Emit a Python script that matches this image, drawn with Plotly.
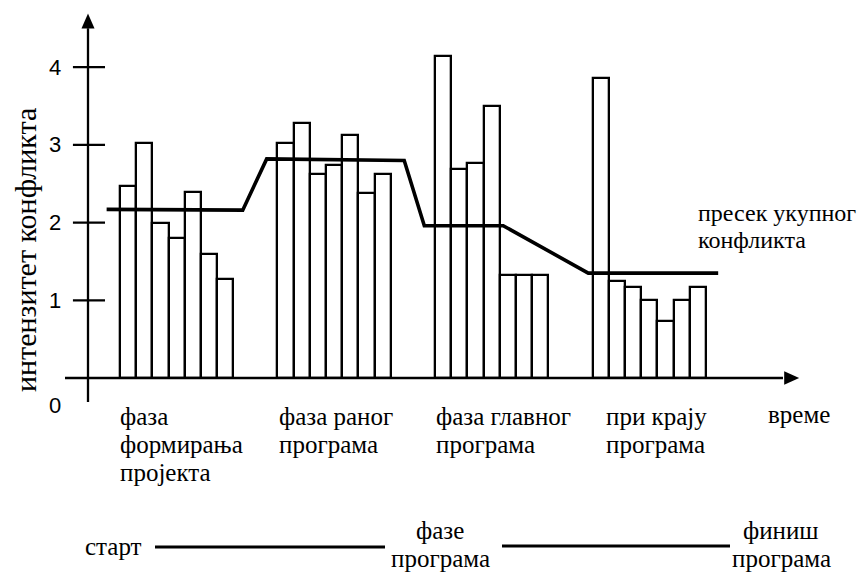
import plotly.graph_objects as go

# ---- data -------------------------------------------------------------
phase_names = ["фаза<br>формирања<br>пројекта", "фаза раног<br>програма",
               "фаза главног<br>програма", "при крају<br>програма"]
phase_start = [1.98, 11.69, 21.42, 31.15]          # left edge of each phase group (bar-width units)
phase1 = [2.47, 3.03, 2.00, 1.80, 2.39, 1.59, 1.27]
phase2 = [3.03, 3.28, 2.63, 2.74, 3.13, 2.38, 2.63]
phase3 = [4.14, 2.69, 2.77, 3.50, 1.32, 1.32, 1.32]
phase4 = [3.86, 1.25, 1.17, 1.00, 0.74, 1.00, 1.17]
phase_values = [phase1, phase2, phase3, phase4]

line_x = [1.15, 9.55, 11.03, 19.52, 20.76, 25.63, 30.88, 38.9]
line_y = [2.17, 2.16, 2.82, 2.80, 1.96, 1.96, 1.35, 1.35]

y_ticks = [1, 2, 3, 4]
y_tick_labels = ["1", "2", "3", "4"]

# ---- geometry helpers ---------------------------------------------------
OFF = 8                      # page body margin in the browser
W, H = 868 - OFF, 574 - OFF
X0PX, Y0PX = 88 - OFF, 378 - OFF   # figure-pixel position of data origin
XU, YU = 16.2, 77.7                # pixels per data unit
xr = [-X0PX / XU, (W - X0PX) / XU]
yr = [(Y0PX - H) / YU, Y0PX / YU]

def px(x):  # screen pixel x -> paper
    return (x - OFF) / W

def py(y):  # screen pixel y -> paper
    return 1 - (y - OFF) / H

SERIF = "Liberation Serif"
SANS = "Liberation Sans"
BLACK = "#000000"

fig = go.Figure()

# bars
bx, by = [], []
for start, vals in zip(phase_start, phase_values):
    for i, v in enumerate(vals):
        bx.append(start + i + 0.5)
        by.append(v)
fig.add_trace(go.Bar(x=bx, y=by, width=1.0,
                     marker=dict(color="white", line=dict(color=BLACK, width=2.3)),
                     showlegend=False, hoverinfo="skip"))

# total conflict line
fig.add_trace(go.Scatter(x=line_x, y=line_y, mode="lines",
                         line=dict(color=BLACK, width=3.6),
                         showlegend=False, hoverinfo="skip"))

shapes = []
# axes
shapes.append(dict(type="line", xref="x", yref="y", x0=-1.42, x1=42.9, y0=0, y1=0,
                   line=dict(color=BLACK, width=2.3)))
shapes.append(dict(type="line", xref="x", yref="y", x0=0, x1=0, y0=-0.31, y1=4.5,
                   line=dict(color=BLACK, width=2.3)))
# arrowheads (pixel-sized paths)
shapes.append(dict(type="path", xref="x", yref="y", xsizemode="pixel", ysizemode="pixel",
                   xanchor=43.9, yanchor=0, path="M0,0 L-15,6.7 L-15,-6.7 Z",
                   fillcolor=BLACK, line=dict(color=BLACK, width=0)))
shapes.append(dict(type="path", xref="x", yref="y", xsizemode="pixel", ysizemode="pixel",
                   xanchor=0, yanchor=4.69, path="M0,0 L-6.5,-15 L6.5,-15 Z",
                   fillcolor=BLACK, line=dict(color=BLACK, width=0)))
# tick marks crossing the axis
for t in y_ticks:
    shapes.append(dict(type="line", xref="x", yref="y", x0=-0.93, x1=1.05, y0=t, y1=t,
                       line=dict(color=BLACK, width=2.3)))
# timeline lines at bottom
shapes.append(dict(type="line", xref="paper", yref="paper", x0=px(155), x1=px(385),
                   y0=py(547), y1=py(547), line=dict(color=BLACK, width=3)))
shapes.append(dict(type="line", xref="paper", yref="paper", x0=px(502), x1=px(730),
                   y0=py(546), y1=py(546), line=dict(color=BLACK, width=3)))

ann = []
for t, lab in zip(y_ticks, y_tick_labels):
    ann.append(dict(x=-2.04, y=t, xref="x", yref="y", text=lab, showarrow=False,
                    xanchor="center", yanchor="middle",
                    font=dict(family=SANS, size=22, color=BLACK)))
ann.append(dict(x=-2.04, y=(Y0PX - (405 - OFF)) / YU, xref="x", yref="y", text="0", showarrow=False,
                xanchor="center", yanchor="middle",
                font=dict(family=SANS, size=22, color=BLACK)))

# y-axis title
ann.append(dict(x=px(26), y=py(250), xref="paper", yref="paper", text="интензитет конфликта",
                textangle=-90, xanchor="center", yanchor="middle", showarrow=False,
                font=dict(family=SERIF, size=30, color=BLACK)))

# phase labels (one annotation per line)
phase_left_px = [118, 277, 434, 604]
for name, lx in zip(phase_names, phase_left_px):
    for k, part in enumerate(name.split("<br>")):
        ann.append(dict(x=px(lx), y=py(416 + 28 * k), xref="paper", yref="paper", text=part,
                        xanchor="left", yanchor="middle", showarrow=False,
                        font=dict(family=SERIF, size=25, color=BLACK)))

def txt(t, x, y, anchor="left", size=25):
    ann.append(dict(x=px(x), y=py(y), xref="paper", yref="paper", text=t, xanchor=anchor,
                    yanchor="middle", showarrow=False,
                    font=dict(family=SERIF, size=size, color=BLACK)))

txt("време", 766, 414)
txt("пресек укупног", 696, 213, size=24)
txt("конфликта", 696, 240, size=24)
txt("старт", 83, 546)
txt("фазе", 440, 530, "center")
txt("програма", 440, 558, "center")
txt("финиш", 781, 530, "center")
txt("програма", 781, 558, "center")

fig.update_layout(
    width=W, height=H, margin=dict(l=0, r=0, t=0, b=0),
    paper_bgcolor="white", plot_bgcolor="white",
    xaxis=dict(range=xr, visible=False, fixedrange=True),
    yaxis=dict(range=yr, visible=False, fixedrange=True),
    shapes=shapes, annotations=ann, bargap=0,
)

fig.write_html("out.html")
